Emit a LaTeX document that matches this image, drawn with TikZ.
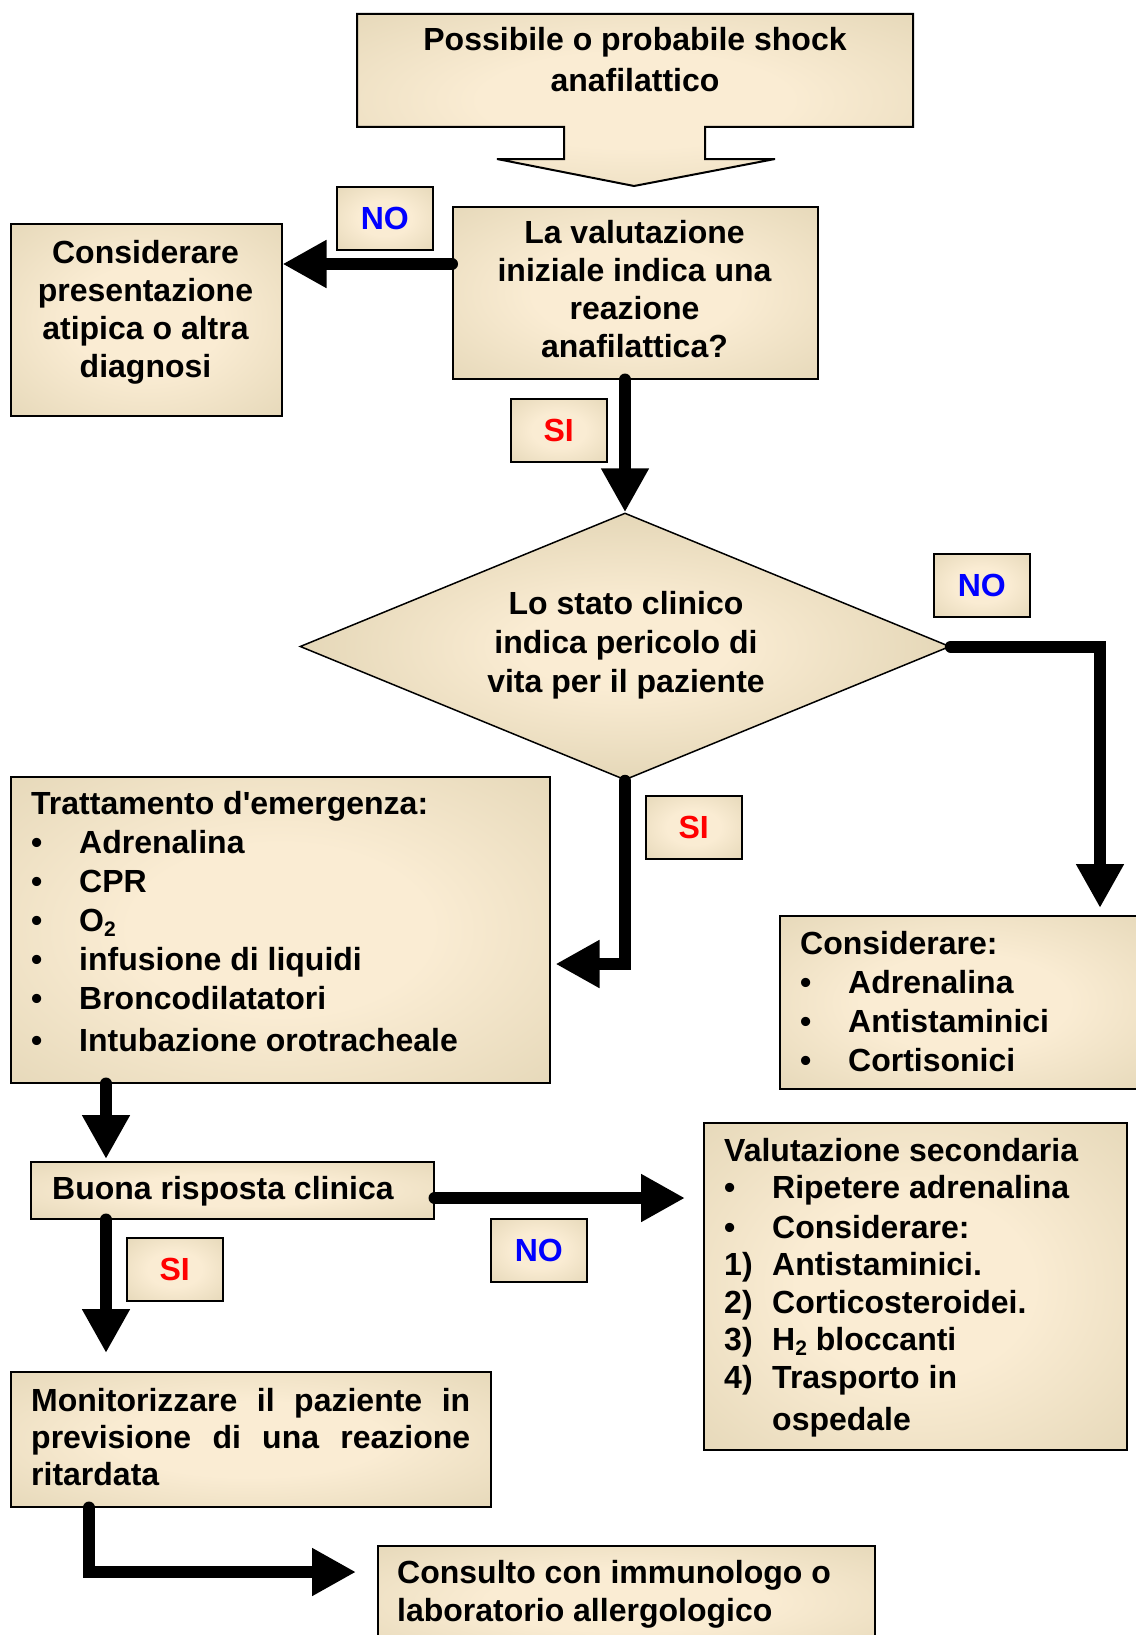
\documentclass[tikz,border=0pt]{standalone}
\usepackage{fontspec}
\setmainfont{Liberation Sans}
\usetikzlibrary{arrows.meta,shapes.geometric}
\definecolor{cC}{RGB}{250,236,211}
\definecolor{tC}{RGB}{210,197,160}
\definecolor{dC}{RGB}{196,182,142}
\colorlet{mC}{cC!50!tC}
\definecolor{noblue}{RGB}{0,0,255}
\definecolor{sired}{RGB}{255,0,0}
\pgfdeclareradialshading{boxshade}{\pgfpoint{0bp}{0bp}}{color(0bp)=(cC); color(14bp)=(cC); color(36bp)=(mC); color(48bp)=(tC); color(72bp)=(dC)}
\pgfdeclareradialshading{diashade}{\pgfpoint{0bp}{0bp}}{color(0bp)=(cC); color(8bp)=(cC); color(24bp)=(mC); color(34bp)=(tC); color(72bp)=(dC)}
\newcommand\mycenter[2]{{\fontsize{32}{#1}\selectfont\begin{tabular}[t]{@{}c@{}}#2\end{tabular}}}
\newcommand\myleft[3]{{\fontsize{32}{#1}\selectfont\parbox[t]{#2}{#3}}}
\newcommand\itm[2]{\makebox[48pt][l]{#1}#2}
\newcommand\mysub[1]{\raisebox{-5pt}{\fontsize{21}{21}\selectfont #1}}
\begin{document}
\begin{tikzpicture}[x=1pt, y=-1pt,
  box/.style={draw=black, line width=1.5pt, shade, shading=boxshade, inner sep=0pt, anchor=north west},
  lbl/.style={box, minimum width=96pt, minimum height=63pt, font=\bfseries\fontsize{32}{38}\selectfont},
  conn/.style={line width=12pt, line cap=round, line join=miter, -{Triangle[length=44pt,width=45pt]}},
  txt/.style={inner sep=0pt, font=\bfseries}]
\useasboundingbox[fill=white] (0,0) rectangle (1135,1635);

% top callout
\path[draw=black, line width=2pt, shade, shading=boxshade]
  (357,14) -- (913,14) -- (913,127) -- (705,127) -- (705,159) -- (775,159)
  -- (634,186) -- (497,159) -- (564,159) -- (564,127) -- (357,127) -- cycle;
\node[txt, anchor=base] (toptext) at (635,51) {\mycenter{41}{Possibile o probabile shock\\anafilattico}};

% boxes
\node[box, minimum width=365pt, minimum height=172pt] (q1) at (452,206) {};
\node[box, minimum width=271pt, minimum height=192pt] (alt) at (10,223) {};
\node[draw=black, line width=1.5pt, shade, shading=diashade, diamond, minimum width=650pt, minimum height=267pt, inner sep=0pt] (dia) at (625,646.5) {};
\node[box, minimum width=539pt, minimum height=306pt] (treat) at (10,776) {};
\node[box, minimum width=370pt, minimum height=173pt] (alt2) at (779,915) {};
\node[box, minimum width=403pt, minimum height=57pt] (good) at (30,1161) {};
\node[box, minimum width=423pt, minimum height=327pt] (val) at (703,1122) {};
\node[box, minimum width=480pt, minimum height=135pt] (mon) at (10,1371) {};
\node[box, minimum width=497pt, minimum height=110pt] (cons) at (377,1545) {};

% labels
\node[lbl] (no1) at (336,186) {\textcolor{noblue}{NO}};
\node[lbl] (si1) at (510,398) {\textcolor{sired}{SI}};
\node[lbl] (no2) at (933,553) {\textcolor{noblue}{NO}};
\node[lbl] (si2) at (645,795) {\textcolor{sired}{SI}};
\node[lbl] (no3) at (490,1218) {\textcolor{noblue}{NO}};
\node[lbl] (si3) at (126,1237) {\textcolor{sired}{SI}};

% texts
\node[txt, anchor=base] (q1text) at (634.5,243) {\mycenter{38}{La valutazione\\iniziale indica una\\reazione\\anafilattica?}};
\node[txt, anchor=base] (alttext) at (145.5,263) {\mycenter{38.3}{Considerare\\presentazione\\atipica o altra\\diagnosi}};
\node[txt, anchor=base] (diatext) at (626,614) {\mycenter{39}{Lo stato clinico\\indica pericolo di\\vita per il paziente}};
\node[txt, anchor=base west] (treattext) at (31,814) {\myleft{39}{500pt}{Trattamento d\textquotesingle emergenza:\\
\itm{\textbullet}{Adrenalina}\\
\itm{\textbullet}{CPR}\\
\itm{\textbullet}{O\mysub{2}}\\
\itm{\textbullet}{infusione di liquidi}\\
\itm{\textbullet}{Broncodilatatori}\\[3pt]
\itm{\textbullet}{Intubazione orotracheale}}};
\node[txt, anchor=base west] (alt2text) at (800,954) {\myleft{39.3}{330pt}{Considerare:\\
\itm{\textbullet}{Adrenalina}\\
\itm{\textbullet}{Antistaminici}\\
\itm{\textbullet}{Cortisonici}}};
\node[txt, anchor=base west] (goodtext) at (52,1199) {\fontsize{32}{38}\selectfont Buona risposta clinica};
\node[txt, anchor=base west] (valtext) at (724,1161) {\myleft{37.5}{400pt}{Valutazione secondaria\\
\itm{\textbullet}{Ripetere adrenalina}\\[2pt]
\itm{\textbullet}{Considerare:}\\
\itm{1)}{Antistaminici.}\\
\itm{2)}{Corticosteroidei.}\\
\itm{3)}{H\mysub{2} bloccanti}\\
\itm{4)}{Trasporto in}\\[4.5pt]
\itm{}{ospedale}}};
\node[txt, anchor=base west] (montext) at (31,1411) {\myleft{37}{439pt}{Monitorizzare il paziente in\linebreak previsione di una reazione\linebreak ritardata}};
\node[txt, anchor=base west] (constext) at (397,1583) {\myleft{38}{470pt}{Consulto con immunologo o\\laboratorio allergologico}};

% helper coordinates
\coordinate (y264) at (0,264);
\coordinate (x106) at (106,0);
\coordinate (x89) at (89,0);
\coordinate (x1100) at (1100,0);
\coordinate (y964) at (0,964);
\coordinate (y1198) at (0,1198);
\coordinate (y1572) at (0,1572);

% connectors
\draw[conn] (q1.west |- y264) -- (alt.east |- y264);
\draw[conn] (q1.south -| dia.north) -- (dia.north);
\draw[conn, shorten >=7pt] (dia.east) -| (alt2.north -| x1100);
\draw[conn, shorten >=5pt] (dia.south) |- (treat.east |- y964);
\draw[conn, shorten >=2pt] (treat.south -| x106) -- (good.north -| x106);
\draw[conn, shorten >=18pt] (good.east |- y1198) -- (val.west |- y1198);
\draw[conn, shorten >=18pt] (good.south -| x106) -- (mon.north -| x106);
\draw[conn, shorten >=21pt] (mon.south -| x89) |- (cons.west |- y1572);
\end{tikzpicture}
\end{document}
